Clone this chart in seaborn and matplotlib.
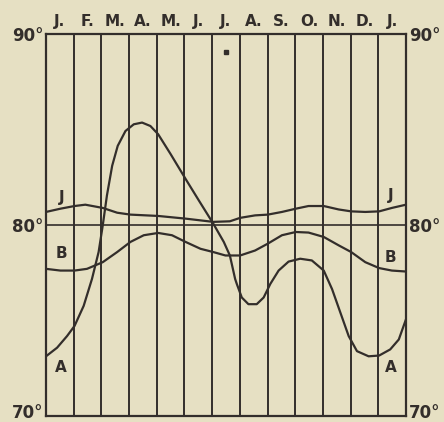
import pandas as pd
import seaborn as sns
import matplotlib.pyplot as plt
import matplotlib.transforms as mtransforms

# --- data (x in months from the left edge, y in degrees) ---
months = ["J.", "F.", "M.", "A.", "M.", "J.", "J.", "A.", "S.", "O.", "N.", "D.", "J."]

j_x = [0.0, 0.52, 1.03, 1.42, 2.05, 2.57, 3.05, 4.05, 5.04, 6.04, 6.64, 7.01, 7.55, 8.01,
       8.52, 9.02, 9.48, 10.03, 10.57, 11.02, 11.53, 12.03, 12.49, 13.0]
j_y = [80.66, 80.83, 80.97, 81.04, 80.87, 80.62, 80.52, 80.45, 80.31, 80.14, 80.17, 80.35,
       80.48, 80.52, 80.66, 80.83, 80.97, 80.97, 80.79, 80.69, 80.66, 80.69, 80.87, 81.04]

b_x = [0.0, 0.52, 1.03, 1.48, 2.05, 2.57, 3.05, 3.53, 4.05, 4.55, 5.04, 5.58, 6.04, 6.48,
       7.01, 7.55, 8.01, 8.52, 9.02, 9.48, 10.03, 10.57, 11.02, 11.53, 12.03, 12.49, 13.0]
b_y = [77.68, 77.59, 77.59, 77.68, 78.03, 78.56, 79.09, 79.44, 79.56, 79.44, 79.09, 78.73,
       78.56, 78.38, 78.38, 78.64, 79.00, 79.44, 79.61, 79.58, 79.35, 78.91, 78.56, 78.03,
       77.72, 77.59, 77.54]

a_x = [0.0, 0.40, 0.76, 1.03, 1.36, 1.66, 1.90, 2.05, 2.20, 2.39, 2.59, 2.87, 3.17, 3.47,
       3.77, 4.05, 4.50, 5.04, 5.52, 6.04, 6.42, 6.64, 6.83, 6.89, 7.07, 7.31, 7.61, 7.86,
       8.10, 8.40, 8.76, 9.18, 9.60, 10.03, 10.33, 10.63, 10.93, 11.23, 11.65, 12.03, 12.43,
       12.74, 13.0]
a_y = [73.10, 73.55, 74.16, 74.69, 75.74, 77.15, 78.56, 79.96, 81.52, 83.08, 84.12, 84.90,
       85.25, 85.34, 85.16, 84.73, 83.69, 82.39, 81.26, 80.05, 79.09, 78.38, 77.15, 76.89,
       76.18, 75.83, 75.83, 76.18, 76.89, 77.59, 78.06, 78.21, 78.12, 77.59, 76.62, 75.39,
       74.16, 73.37, 73.10, 73.14, 73.46, 73.98, 75.04]

y_ticks = [70, 80, 90]
y_labels = ["70°", "80°", "90°"]

paper = "#e6e0c3"
ink = "#332e2b"

sns.set_theme(style="white")
plt.rcParams["font.family"] = ["DejaVu Sans"]

fig = plt.figure(figsize=(4.44, 4.22), dpi=100, facecolor=paper)
ax = fig.add_axes([0.1036, 0.0154, 0.8108, 0.905])
ax.set_facecolor(paper)

curves = pd.concat([
    pd.DataFrame({"x": j_x, "y": j_y, "name": "J"}),
    pd.DataFrame({"x": b_x, "y": b_y, "name": "B"}),
    pd.DataFrame({"x": a_x, "y": a_y, "name": "A"}),
])
sns.lineplot(data=curves, x="x", y="y", units="name", estimator=None, sort=False,
             color=ink, linewidth=1.6, ax=ax, legend=False)
for line in ax.get_lines():
    line.set_solid_joinstyle("round")

# grid: month dividers and the 80 degree line
for i in range(1, 13):
    ax.axvline(i, color=ink, linewidth=1.4, zorder=1)
ax.axhline(80, color=ink, linewidth=1.2, zorder=1)

ax.set_xlim(0, 13)
ax.set_ylim(70, 90)
for s in ax.spines.values():
    s.set_color(ink)
    s.set_linewidth(1.6)

ax.set_xticks([i + 0.5 for i in range(13)])
ax.set_xticklabels(months, fontsize=11, fontweight="bold", color=ink)
ax.xaxis.tick_top()
ax.tick_params(axis="x", length=0, pad=3)

ax.set_yticks(y_ticks)
ax.set_yticklabels(y_labels, fontsize=12, fontweight="bold", color=ink)
ax.tick_params(axis="y", length=0, pad=2, labelleft=True, labelright=True)
ax.set_xlabel("")
ax.set_ylabel("")

# lift the 70 degree labels a little so they stay inside the picture
lift = mtransforms.ScaledTranslation(0, 3 / 72, fig.dpi_scale_trans)
for tick in ax.yaxis.get_major_ticks()[:1]:
    tick.label1.set_transform(tick.label1.get_transform() + lift)
    tick.label2.set_transform(tick.label2.get_transform() + lift)

# curve letters
for name, yl in [("J", 81.44), ("B", 78.5), ("A", 72.49)]:
    ax.text(0.55, yl, name, fontsize=11, fontweight="bold", color=ink, ha="center", va="center")
for name, yl in [("J", 81.54), ("B", 78.25), ("A", 72.49)]:
    ax.text(12.45, yl, name, fontsize=11, fontweight="bold", color=ink, ha="center", va="center")

ax.plot([6.5], [89.05], marker="s", markersize=2.5, color=ink)

fig.savefig("out.png", dpi=100, facecolor=paper)
